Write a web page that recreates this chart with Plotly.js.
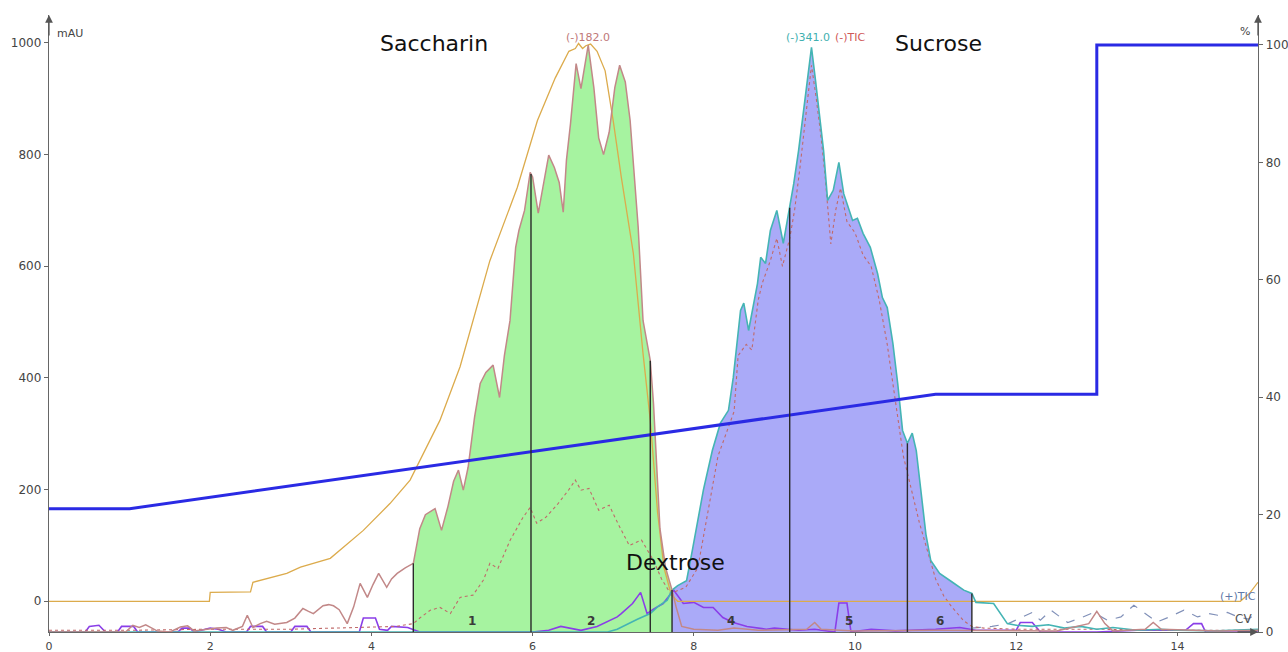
<!DOCTYPE html>
<html>
<head>
<meta charset="utf-8">
<script src="https://cdn.plot.ly/plotly-3.0.1.min.js"></script>
<style>
html,body{margin:0;padding:0;background:#fff;}
#chart{width:1288px;height:652px;}
</style>
</head>
<body>
<div id="chart"></div>
<script>
// ---------- data ----------
// ELSD / orange trace (mAU)
const orangeTime = [0,1.99,2.0,2.5,2.53,2.95,3.12,3.32,3.49,3.9,4.23,4.48,4.85,5.1,5.47,5.81,6.06,6.28,6.45,6.53,6.57,6.62,6.66,6.72,6.8,6.9,7.0,7.1,7.25,7.37,7.46,7.55,7.63,7.72,7.8,14.78,14.9,15.0];
const orangeVal  = [0,0,16,17,34,50,61,70,77,127,175,217,324,420,610,741,861,937,985,990,999,990,995,998,985,950,861,760,623,444,324,160,60,12,0,0,15,34];

// (-)182.0 trace (Saccharin)
const t182 = [0,0.95,1.04,1.12,1.2,1.34,1.5,1.63,1.72,1.8,2.08,2.2,2.28,2.4,2.46,2.53,2.62,2.7,2.8,2.95,3.05,3.15,3.22,3.28,3.4,3.47,3.53,3.6,3.7,3.78,3.86,3.95,4.02,4.09,4.19,4.25,4.32,4.42,4.52,
  4.6,4.67,4.79,4.87,4.95,5.02,5.08,5.14,5.2,5.28,5.35,5.42,5.51,5.59,5.65,5.72,5.79,5.83,5.9,5.97,6.0,6.07,6.13,6.2,6.27,6.33,6.38,6.42,6.47,6.54,6.6,6.64,6.69,6.76,6.82,6.88,6.95,7.02,7.08,7.15,7.21,7.31,7.37,7.46,7.5,7.58,7.65,7.73,
  7.78,7.85,8.0,8.3,8.5,8.8,9.4,9.5,9.58,10.0,11.0,12.5,12.9,13.0,13.1,13.2,13.6,13.7,13.8,14.5,15.0];
const v182 = [-55,-55,-43,-47,-42,-53,-55,-46,-44,-53,-48,-47,-52,-45,-25,-47,-40,-36,-41,-38,-30,-13,-18,-22,-8,-6,-8,-15,-40,-10,32,7,30,50,25,40,50,60,68,
  130,155,166,127,170,215,235,199,240,330,390,410,423,365,440,503,634,664,700,768,760,695,740,799,777,750,697,790,855,963,918,950,996,920,830,800,840,920,960,930,861,670,503,431,354,130,60,20,
  -10,-45,-50,-52,-48,-52,-50,-38,-50,-53,-52,-53,-40,-18,-40,-53,-50,-38,-50,-53,-52];

// (-)341.0 trace (Sucrose)
const t341 = [0,6.93,7.05,7.18,7.3,7.46,7.55,7.67,7.73,7.8,7.91,7.98,8.05,8.12,8.23,8.33,8.43,8.49,8.58,8.62,8.68,8.74,8.79,8.83,8.89,8.95,9.03,9.11,9.19,9.24,9.3,9.34,9.4,9.46,9.51,9.57,9.61,9.66,9.73,9.8,9.86,9.97,10.03,10.1,10.19,10.28,10.34,10.4,10.47,10.53,10.59,10.65,10.71,10.76,10.82,10.88,10.94,11.05,11.2,11.35,11.45,
  11.5,11.72,11.8,11.89,12.0,12.2,12.4,12.6,12.8,13.0,13.2,13.5,13.8,14.0,14.5,15.0];
const v341 = [-55,-55,-50,-40,-32,-22,-10,2,20,28,37,90,145,200,270,319,342,401,521,534,485,530,569,616,605,664,700,641,705,748,807,852,915,992,933,861,807,718,736,786,730,682,686,659,634,587,544,526,462,390,306,283,301,270,200,120,73,50,35,20,14,
  -2,-4,-20,-40,-43,-45,-42,-48,-45,-50,-47,-52,-50,-52,-53,-50];

// (-)TIC trace
const tTicNeg = [0,1.0,2.0,3.0,3.8,4.3,4.52,4.6,4.73,4.85,4.98,5.1,5.26,5.39,5.47,5.57,5.72,5.88,5.97,6.05,6.16,6.3,6.45,6.53,6.6,6.7,6.82,6.95,7.07,7.2,7.35,7.5,7.6,7.71,
  7.9,8.05,8.2,8.3,8.4,8.5,8.55,8.65,8.72,8.8,8.85,8.95,9.03,9.1,9.19,9.25,9.32,9.4,9.46,9.52,9.58,9.63,9.7,9.76,9.82,9.9,10.0,10.1,10.2,10.3,10.4,10.5,10.6,10.7,10.8,10.9,11.0,11.1,11.2,11.35,11.45,11.6,12.0,13.0,14.0,15.0];
const vTicNeg = [-52,-52,-50,-50,-47,-45,-40,-30,-16,-11,-22,7,11,38,68,59,109,150,168,140,150,172,200,217,199,202,163,172,136,100,110,73,40,14,
  25,60,180,260,300,340,440,460,450,540,570,610,650,600,650,700,780,880,960,900,830,760,640,700,740,680,660,620,600,540,460,360,260,200,140,90,40,10,-10,-35,-45,-48,-50,-50,-52,-52];

// (+)TIC trace
const tTicPos = [11.45,11.7,11.9,12.05,12.2,12.3,12.43,12.64,12.8,12.96,13.13,13.3,13.46,13.63,13.75,13.9,14.08,14.25,14.39,14.5,14.62,14.75,14.88,15.0];
const vTicPos = [-48,-45,-40,-30,-20,-34,-16,-38,-30,-20,-34,-28,-7,-25,-37,-28,-16,-28,-22,-25,-20,-28,-32,-20];

// UV trace (purple)
const tUV = [0,0.45,0.5,0.62,0.7,0.85,0.9,1.05,1.1,1.6,1.65,1.75,1.8,2.0,2.1,2.2,2.45,2.5,2.65,2.7,3.0,3.05,3.2,3.25,3.85,3.9,4.05,4.1,4.2,4.25,4.45,4.6,6.0,6.2,6.35,6.5,6.6,6.8,6.95,7.05,7.1,7.24,7.34,7.42,7.5,7.62,7.75,7.87,8.0,8.12,8.24,8.36,8.49,8.66,8.9,9.0,9.3,9.5,9.75,9.8,9.9,9.95,10.2,10.5,11.0,11.3,11.5,12.0,12.05,12.2,12.3,13.0,13.5,14.1,14.2,14.3,14.35,15.0];
const vUV = [-55,-55,-45,-43,-55,-55,-45,-45,-55,-55,-48,-48,-55,-48,-50,-55,-55,-45,-45,-55,-55,-45,-45,-55,-55,-30,-30,-50,-52,-45,-47,-55,-55,-52,-45,-50,-52,-45,-35,-28,-22,-4,16,-22,-14,-4,20,-4,-2,-11,-11,-29,-38,-45,-50,-48,-52,-50,-55,-3,-3,-55,-50,-53,-50,-47,-52,-52,-38,-38,-55,-55,-52,-52,-40,-40,-55,-55];

// Gradient (% B, right axis)
const gradTime = [0,1,11,13,13,15];
const gradPct  = [21,21,40.5,40.5,100,100];

// Fraction cuts and labels
const fractionCuts   = [4.52,5.98,7.46,7.73,9.19,10.65,11.45];
const fractionLabels = ['1','2','3','4','5','6'];

// Compound names
const compoundNames = ['Saccharin','Dextrose','Sucrose'];
const compoundTime  = [4.78,7.77,11.04];
const compoundLevel = [999,70,999];

// ---------- helpers ----------
const Y_MIN = -55;
function interp(ts, vs, x){
  for(let i=0;i<ts.length-1;i++){
    if(x>=ts[i] && x<=ts[i+1]){
      const f = (ts[i+1]===ts[i])?0:(x-ts[i])/(ts[i+1]-ts[i]);
      return vs[i]+f*(vs[i+1]-vs[i]);
    }
  }
  return vs[vs.length-1];
}
function region(ts, vs, a, b){
  const xs=[a], ys=[Y_MIN];
  xs.push(a); ys.push(interp(ts,vs,a));
  for(let i=0;i<ts.length;i++){ if(ts[i]>a && ts[i]<b){ xs.push(ts[i]); ys.push(vs[i]); } }
  xs.push(b); ys.push(interp(ts,vs,b));
  xs.push(b); ys.push(Y_MIN);
  return {x:xs,y:ys};
}

const greenReg  = region(t182, v182, fractionCuts[0], fractionCuts[3]);
const purpleReg = region(t341, v341, fractionCuts[3], fractionCuts[6]);

const traces = [
  {x:greenReg.x, y:greenReg.y, type:'scatter', mode:'lines', fill:'toself', fillcolor:'rgb(166,243,160)', line:{width:0}, hoverinfo:'skip'},
  {x:purpleReg.x, y:purpleReg.y, type:'scatter', mode:'lines', fill:'toself', fillcolor:'rgb(170,170,248)', line:{width:0}, hoverinfo:'skip'},
  {x:tUV, y:vUV, type:'scatter', mode:'lines', line:{color:'#8a3ee8', width:1.6}},
  {x:tTicPos, y:vTicPos, type:'scatter', mode:'lines', line:{color:'#8090b8', width:1.2, dash:'dash'}},
  {x:tTicNeg, y:vTicNeg, type:'scatter', mode:'lines', line:{color:'#c06a6a', width:1.1, dash:'dot'}},
  {x:orangeTime, y:orangeVal, type:'scatter', mode:'lines', line:{color:'#dcab4c', width:1.3}},
  {x:t341, y:v341, type:'scatter', mode:'lines', line:{color:'#44b4b4', width:1.6}},
  {x:t182, y:v182, type:'scatter', mode:'lines', line:{color:'#c28888', width:1.5}},
  {x:gradTime, y:gradPct, type:'scatter', mode:'lines', yaxis:'y2', line:{color:'#2a2ae4', width:3}}
];

const shapes = fractionCuts.map((c,i)=>{
  const top = (c < fractionCuts[3]) ? interp(t182,v182,c) : (c > fractionCuts[3] ? interp(t341,v341,c) : Math.max(interp(t182,v182,c),interp(t341,v341,c)));
  return {type:'line', xref:'x', yref:'y', x0:c, x1:c, y0:Y_MIN, y1:top, line:{color:'#2a2a2a', width:1.4}};
});

const annotations = [];
for(let i=0;i<fractionLabels.length;i++){
  const a=fractionCuts[i], b=fractionCuts[i+1];
  if(b-a < 0.5) continue;
  annotations.push({x:(a+b)/2, y:-36, xref:'x', yref:'y', text:'<b>'+fractionLabels[i]+'</b>', showarrow:false,
    font:{family:'DejaVu Sans', size:12, color:'#3a3a3a'}});
}
for(let i=0;i<compoundNames.length;i++){
  annotations.push({x:compoundTime[i], y:compoundLevel[i], xref:'x', yref:'y', text:compoundNames[i], showarrow:false,
    font:{family:'DejaVu Sans', size:22, color:'#111'}});
}
annotations.push(
  {x:6.69, y:1010, xref:'x', yref:'y', text:'(-)182.0', showarrow:false, font:{family:'DejaVu Sans', size:11, color:'#c07878'}},
  {x:9.42, y:1010, xref:'x', yref:'y', text:'(-)341.0', showarrow:false, font:{family:'DejaVu Sans', size:11, color:'#3fb0b0'}},
  {x:9.95, y:1010, xref:'x', yref:'y', text:'(-)TIC', showarrow:false, font:{family:'DejaVu Sans', size:11, color:'#d05858'}},
  {x:14.75, y:8, xref:'x', yref:'y', text:'(+)TIC', showarrow:false, font:{family:'DejaVu Sans', size:11, color:'#6078a8'}},
  {x:14.82, y:-32, xref:'x', yref:'y', text:'CV', showarrow:false, font:{family:'DejaVu Sans', size:12, color:'#555'}},
  {x:0, y:1, xref:'paper', yref:'paper', xanchor:'left', yanchor:'top', xshift:6, yshift:-10, text:'mAU', showarrow:false, font:{family:'DejaVu Sans', size:11, color:'#444'}},
  {x:1, y:1, xref:'paper', yref:'paper', xanchor:'right', yanchor:'top', xshift:-6, yshift:-8, text:'%', showarrow:false, font:{family:'DejaVu Sans', size:11, color:'#444'}},
  // axis arrows
  {x:0, y:1, xref:'paper', yref:'paper', ax:0, ay:22, showarrow:true, arrowhead:2, arrowsize:1.2, arrowwidth:1.3, arrowcolor:'#555', text:''},
  {x:1, y:1, xref:'paper', yref:'paper', ax:0, ay:22, showarrow:true, arrowhead:2, arrowsize:1.2, arrowwidth:1.3, arrowcolor:'#555', text:''},
  {x:1, y:0, xref:'paper', yref:'paper', ax:-22, ay:0, showarrow:true, arrowhead:2, arrowsize:1.2, arrowwidth:1.3, arrowcolor:'#555', text:''}
);

const tickFont = {family:'DejaVu Sans', size:12, color:'#444'};
const layout = {
  width:1288, height:652,
  margin:{l:49, r:30, t:15, b:20},
  paper_bgcolor:'#fff', plot_bgcolor:'#fff',
  showlegend:false,
  xaxis:{range:[0,15], tickvals:[0,2,4,6,8,10,12,14], ticks:'outside', ticklen:3, tickcolor:'#666',
    showline:true, linecolor:'#666', linewidth:1.3, showgrid:false, zeroline:false,
    tickfont:{family:'DejaVu Sans', size:11, color:'#444'}},
  yaxis:{range:[Y_MIN,1050], tickvals:[0,200,400,600,800,1000], ticks:'outside', ticklen:4, tickcolor:'#666',
    showline:true, linecolor:'#666', linewidth:1.3, showgrid:false, zeroline:false, tickfont:tickFont},
  yaxis2:{range:[0,105.1], overlaying:'y', side:'right', tickvals:[0,20,40,60,80,100], ticks:'outside', ticklen:4, tickcolor:'#666',
    showline:true, linecolor:'#666', linewidth:1.3, showgrid:false, zeroline:false, tickfont:tickFont},
  shapes:shapes,
  annotations:annotations
};
Plotly.newPlot('chart', traces, layout, {staticPlot:true, displayModeBar:false});
</script>
</body>
</html>
